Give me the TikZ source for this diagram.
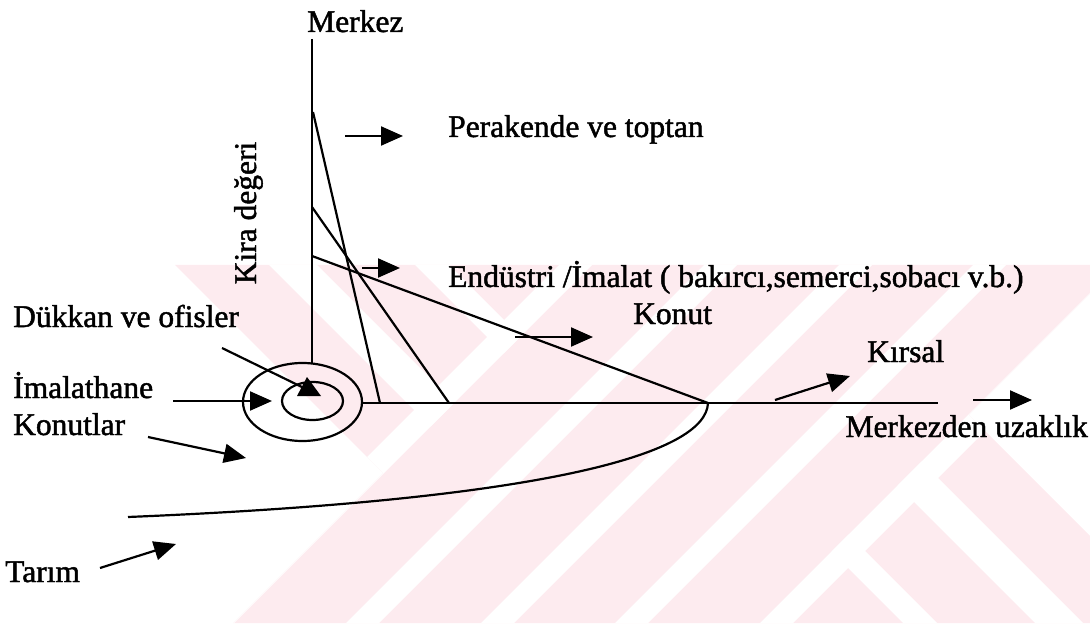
\documentclass[tikz,border=0pt]{standalone}
\usepackage{fontspec}
\setmainfont{Liberation Serif}[FakeBold=1.5]
\usetikzlibrary{arrows.meta}
\definecolor{emblempink}{RGB}{253,235,239}
\begin{document}
\begin{tikzpicture}[x=1pt,y=-1pt,
  lbl/.style={inner sep=0pt, font=\fontsize{31.5}{38}\selectfont},
  axisline/.style={line width=2pt},
  rentline/.style={line width=2.2pt},
  pointer/.style={line width=2.2pt, -{Triangle[length=22pt,width=19pt]}},
]
\useasboundingbox (0,0) rectangle (1090,631);

% ---- faint background emblem: 45 degree bands ----
\begin{scope}
  \clip (175,265) -- (1119,265) -- (969,415) -- (1090,536) -- (1090,623)
        -- (233,623) -- (383,473) -- cycle;
  \fill[emblempink] (0,0) rectangle (1090,631);
  % rising bands
  \foreach \a/\b in {824/857, 969/1002, 1104/1137, 1238/1271, 1383/1416}
    \fill[white] (\a,0) -- (\b,0) -- (\b-700,700) -- (\a-700,700) -- cycle;
  % falling bands on the upper left, ending at the first rising band
  \begin{scope}
    \clip (-100,0) -- (857,0) -- (157,700) -- (-100,700) -- cycle;
    \foreach \d/\e in {-52/-4, -184/-150}
      \fill[white] (-\e,0) -- (-\d,0) -- (700-\d,700) -- (700-\e,700) -- cycle;
  \end{scope}
  % falling bands on the lower right, starting at the last rising band
  \begin{scope}
    \clip (1383,0) -- (1500,0) -- (1500,700) -- (683,700) -- cycle;
    \foreach \d/\e in {-314/-280, -460/-412}
      \fill[white] (-\e,0) -- (-\d,0) -- (700-\d,700) -- (700-\e,700) -- cycle;
  \end{scope}
\end{scope}

% ---- labels ----
\node[lbl, anchor=base west] (merkez) at (307,32) {Merkez};
\node[lbl, anchor=base west] (perakende) at (448,137) {Perakende ve toptan};
\node[lbl, anchor=base, rotate=90] (kira) at (256,213) {Kira değeri};
\node[lbl, anchor=base west] (endustri) at (448,287) {Endüstri /İmalat ( bakırcı,semerci,sobacı v.b.)};
\node[lbl, anchor=base west] (konut) at (633,324) {Konut};
\node[lbl, anchor=base west] (dukkan) at (13,327) {Dükkan ve ofisler};
\node[lbl, anchor=base west] (imalathane) at (13,398) {İmalathane};
\node[lbl, anchor=base west] (konutlar) at (13,435) {Konutlar};
\node[lbl, anchor=base west] (kirsal) at (867,362) {Kırsal};
\node[lbl, anchor=base east] (uzaklik) at (1088,437) {Merkezden uzaklık};
\node[lbl, anchor=base west] (tarim) at (5,582) {Tarım};

% ---- axes ----
\coordinate (vtop) at (312,39);
\coordinate (vbot) at (312,363);
\coordinate (hstart) at (362,403);
\coordinate (hend) at (938,403);
\draw[axisline] (vtop) -- (vbot);
\draw[axisline] (hstart) -- (hend);

% ---- zone rings around the centre ----
\draw[rentline] (302.5,402) ellipse [x radius=59.5, y radius=39];
\draw[rentline] (312.5,401) ellipse [x radius=30.5, y radius=19];

% ---- bid-rent lines ----
\coordinate (r1a) at (313,112);
\coordinate (r1b) at (380,403);
\coordinate (r2a) at (312,207);
\coordinate (r2b) at (449,403);
\coordinate (r3a) at (312,256);
\coordinate (r3b) at (708,403);
\draw[rentline] (r1a) -- (r1b);
\draw[rentline] (r2a) -- (r2b);
\draw[rentline] (r3a) -- (r3b);

% ---- agricultural boundary ----
\coordinate (tleft) at (128,517);
\draw[rentline] (r3b) .. controls (706,455) and (540,500) .. (tleft);

% ---- pointers ----
\coordinate (p1a) at (345,136);  \coordinate (p1b) at (403,136);
\coordinate (p2a) at (362,268);  \coordinate (p2b) at (400,268);
\coordinate (p3a) at (515,337);  \coordinate (p3b) at (593,337);
\coordinate (p4a) at (775,400);  \coordinate (p4b) at (850,376);
\coordinate (p5a) at (973,400);  \coordinate (p5b) at (1032,400);
\coordinate (p6a) at (173,401);  \coordinate (p6b) at (272,401);
\coordinate (p7a) at (148,437);  \coordinate (p7b) at (246,458);
\coordinate (p8a) at (100,568);  \coordinate (p8b) at (176,544);
\draw[pointer] (p1a) -- (p1b);
\draw[pointer] (p2a) -- (p2b);
\draw[pointer] (p3a) -- (p3b);
\draw[pointer] (p4a) -- (p4b);
\draw[pointer] (p5a) -- (p5b);
\draw[pointer] (p6a) -- (p6b);
\draw[pointer] (p7a) -- (p7b);
\draw[pointer] (p8a) -- (p8b);

% pointer into the inner ring (shops and offices)
\coordinate (p9a) at (222,348);
\coordinate (p9b) at (306,389);
\draw[line width=2.2pt] (p9a) -- (p9b);
\fill (297,396) -- (307,377) -- (321,396) -- cycle;
\end{tikzpicture}
\end{document}
